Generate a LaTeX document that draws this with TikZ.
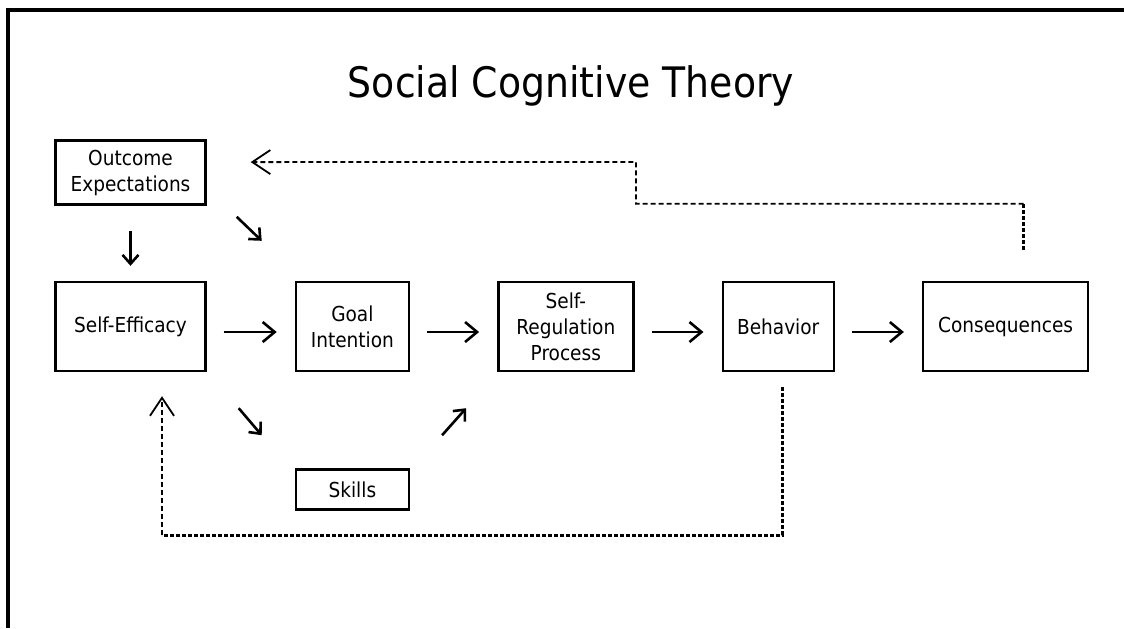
\documentclass[tikz,border=0pt]{standalone}
\usepackage{fontspec}
\setmainfont{DejaVu Sans Condensed}
\usetikzlibrary{arrows.meta,positioning}

\begin{document}
\begin{tikzpicture}[x=0.5pt,y=-0.5pt,>={Straight Barb[length=6pt,width=10pt]},
	main node/.style={rectangle,draw,line width=1.2pt,minimum height=44.5pt,inner sep=2pt,
		align=center,font=\fontsize{10.3pt}{13pt}\selectfont},
	flow/.style={->,line width=1.3pt,shorten <=8.5pt,shorten >=9pt},
	tilt/.style={->,line width=1.3pt,>={Straight Barb[length=4.5pt,width=8pt]}},
	fb thick/.style={line width=1.5pt,dash pattern=on 2pt off 1pt},
	fb thin/.style={->,line width=0.9pt,dash pattern=on 2.5pt off 1.5pt,
		>={Straight Barb[length=9pt,width=12pt]}}]
	
	\useasboundingbox (0,0) rectangle (1124,628);
	\draw[line width=1.8pt] (8,628) -- (8,10) -- (1124,10);
	
	\node[anchor=base,font=\fontsize{21pt}{25pt}\selectfont] (title) at (571,97) {Social Cognitive Theory};
	
	\node[main node,minimum width=75pt] (se) at (130.5,326.5) {Self-Efficacy};
	\node[main node,minimum width=75pt,minimum height=32pt] (oe) [above=37.5pt of se] {Outcome\\Expectations};
	\node[main node,minimum width=56.5pt] (gi) [right=44pt of se] {Goal\\Intention};
	\node[main node,minimum width=67.5pt] (sr) [right=43.5pt of gi] {Self-\\Regulation\\Process};
	\node[main node,minimum width=55.5pt] (be) [right=43.5pt of sr] {Behavior};
	\node[main node,minimum width=82.5pt] (co) [right=43.5pt of be] {Consequences};
	\node[main node,minimum width=56.5pt,minimum height=20pt] (sk) [below=48pt of gi] {Skills};
	
	% main chain
	\foreach \a/\b in {se/gi,gi/sr,sr/be,be/co}
		\draw[flow] ([yshift=-2.75pt]\a.east) -- ([yshift=-2.75pt]\b.west);
	
	\draw[tilt,shorten <=12.5pt,shorten >=7.5pt] (oe.south) -- (se.north);
	\draw[tilt] ([shift={(15pt,-5.5pt)}]oe.south east) -- ([shift={(-16.5pt,20pt)}]gi.north west);
	\draw[tilt] ([shift={(16pt,-18pt)}]se.south east) -- ([shift={(-16.5pt,16.5pt)}]sk.north west);
	\draw[tilt] ([shift={(16pt,16.5pt)}]sk.north east) -- ([shift={(-15.5pt,-18pt)}]sr.south west);
	
	% feedback loops
	\path ([xshift=9pt,yshift=15.5pt]co.north) coordinate (fs) ++(0,-46) coordinate (fr);
	\coordinate (fm) at (636,162);
	\coordinate (fb) at (162,535);
	\draw[fb thick] (fs) -- (fr);
	\draw[fb thin] (fr) -| (fm) -- ([xshift=22pt,yshift=5.25pt]oe.east);
	\draw[fb thick] ([xshift=2pt,yshift=-7.5pt]be.south) |- (fb);
	\draw[fb thin] (fb) -- ([xshift=15.75pt,yshift=-12pt]se.south);
\end{tikzpicture}
\end{document}
